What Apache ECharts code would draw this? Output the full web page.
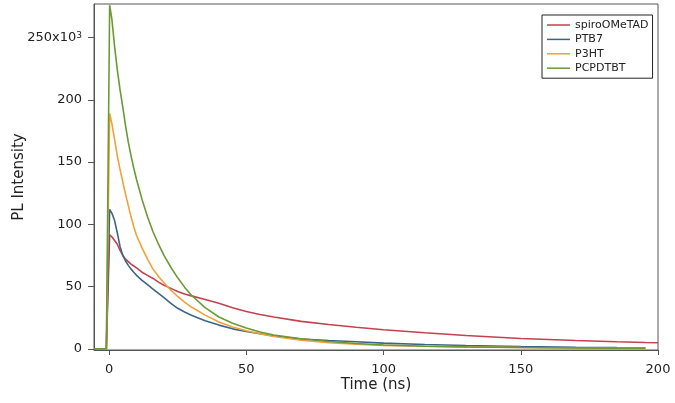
<!DOCTYPE html>
<html>
<head>
<meta charset="utf-8">
<script src="https://cdn.jsdelivr.net/npm/echarts@6/dist/echarts.min.js"></script>
<style>
html,body{margin:0;padding:0;background:#fff;}
#chart{width:675px;height:403px;}
</style>
</head>
<body>
<div id="chart"></div>
<script>
// ---- data ----
const timeNs = [-5.3, -1.0, 0.2, 1, 2, 3, 4, 5, 6, 7, 8, 9, 10, 12, 14, 16, 18, 20, 22.5, 25, 27.5, 30, 35, 40, 45, 50, 55, 60, 70, 80, 90, 100, 115, 130, 150, 170, 185, 195.4, 200];
const spiroOMeTAD = [0, 0, 91.5, 90, 87, 84, 79, 75, 72, 70, 68, 66.5, 65, 61.5, 59, 56.5, 53.5, 51, 48.5, 46, 44, 42.5, 39.5, 36.5, 33, 30, 27.5, 25.5, 22, 19.5, 17.3, 15.3, 12.8, 10.7, 8.3, 6.6, 5.6, 5, 4.8];
const PTB7 = [0, 0, 112, 109, 103, 93, 82, 75, 70.5, 67, 64, 61.5, 59, 55, 51.5, 48, 44.5, 41, 36.5, 32.5, 29.5, 27, 22.5, 19, 16, 13.9, 12, 10.2, 7.8, 6.6, 5.6, 4.5, 3.4, 2.6, 1.8, 1.2, 0.9, 0.8, null];
const P3HT = [0, 0, 189, 181, 168, 155, 144, 134, 124, 115, 106, 98, 91, 81, 72, 64, 58, 53, 47, 42, 37.5, 33.5, 27, 21.5, 17.5, 14.5, 12, 9.8, 6.8, 4.8, 3.6, 2.7, 2, 1.5, 1, 0.7, 0.5, 0.5, null];
const PCPDTBT = [0, 0, 276, 265, 243, 224, 208, 194, 179, 166, 155, 145, 136, 120, 106, 94, 84, 75, 65.5, 57, 49.5, 43, 33, 25.5, 20.5, 16.6, 13.5, 11, 8, 5.8, 4.2, 3, 2, 1.5, 1, 0.7, 0.5, 0.4, null];
const seriesNames = ['spiroOMeTAD', 'PTB7', 'P3HT', 'PCPDTBT'];
const seriesValues = [spiroOMeTAD, PTB7, P3HT, PCPDTBT];
const seriesColors = ['#c4424f', '#3c6688', '#f0a23a', '#6a9a34'];
const xTickValues = [0, 50, 100, 150, 200];
const yTickValues = [0, 50, 100, 150, 200, 250];

const font = 'DejaVu Sans';
const chart = echarts.init(document.getElementById('chart'), null, {renderer: 'canvas'});

const series = seriesNames.map((name, i) => ({
  name: name,
  type: 'line',
  data: timeNs.map((t, k) => [t, seriesValues[i][k]]),
  symbol: 'none',
  showSymbol: false,
  connectNulls: false,
  lineStyle: {color: seriesColors[i], width: 1.6},
  itemStyle: {color: seriesColors[i]},
  animation: false
}));

chart.setOption({
  animation: false,
  backgroundColor: '#ffffff',
  grid: {left: 94, top: 4, width: 564, height: 346, show: true, borderColor: '#555', borderWidth: 1,
         backgroundColor: 'transparent', containLabel: false, outerBoundsMode: 'none'},
  legend: {
    data: seriesNames,
    orient: 'vertical',
    left: 542, top: 15,
    icon: 'rect',
    itemWidth: 23, itemHeight: 1.5, itemGap: 0.4,
    padding: [3, 4, 3, 5],
    backgroundColor: '#fff',
    borderColor: '#222', borderWidth: 1,
    textStyle: {fontFamily: font, fontSize: 11, color: '#222', lineHeight: 14}
  },
  xAxis: {
    type: 'value', min: -5.5, max: 200,
    name: 'Time (ns)', nameLocation: 'middle', nameGap: 28, nameMoveOverlap: false,
    nameTextStyle: {fontFamily: font, fontSize: 15, color: '#222'},
    axisLine: {show: true, onZero: false, lineStyle: {color: '#555', width: 1}},
    axisTick: {show: true, inside: false, length: 5, customValues: xTickValues, lineStyle: {color: '#555'}},
    axisLabel: {customValues: xTickValues, margin: 13, fontFamily: font, fontSize: 13, color: '#222'},
    splitLine: {show: false}
  },
  yAxis: {
    type: 'value', min: -1, max: 277,
    name: 'PL Intensity', nameLocation: 'middle', nameGap: 67, nameMoveOverlap: false,
    nameTextStyle: {fontFamily: font, fontSize: 15, color: '#222'},
    axisLine: {show: true, onZero: false, lineStyle: {color: '#555', width: 1}},
    axisTick: {show: true, inside: false, length: 6, customValues: yTickValues, lineStyle: {color: '#555'}},
    axisLabel: {
      customValues: yTickValues, margin: 12, fontFamily: font, fontSize: 13, color: '#222',
      formatter: v => v === 250 ? '{n|250x10}{sup|3}' : String(v),
      rich: {
        n: {fontFamily: font, fontSize: 13, color: '#222', verticalAlign: 'bottom'},
        sup: {fontFamily: font, fontSize: 9, color: '#222', verticalAlign: 'top'}
      }
    },
    splitLine: {show: false}
  },
  series: series
});
</script>
</body>
</html>
